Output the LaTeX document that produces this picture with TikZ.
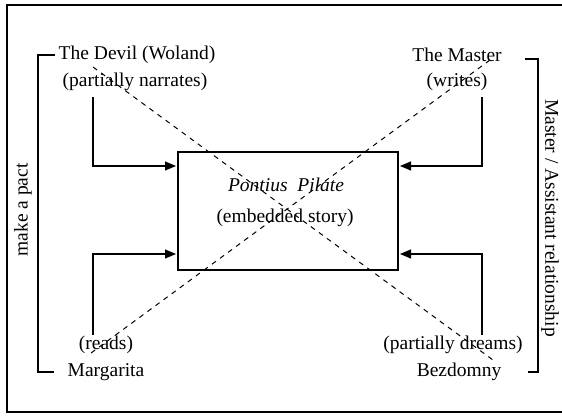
\documentclass[tikz,border=0pt]{standalone}
\usepackage{fontspec}
\setmainfont{Liberation Serif}
\usetikzlibrary{arrows.meta}
\begin{document}
\begin{tikzpicture}[x=1pt,y=-1pt,
  lbl/.style={inner sep=0pt,font=\fontsize{19.5}{22}\selectfont},
  conn/.style={line width=1.2pt},
  arr/.style={line width=1.2pt,-{Triangle[length=11pt,width=9pt]},shorten >=2pt},
  dsh/.style={line width=1pt,dash pattern=on 5pt off 5pt}]
\useasboundingbox (0,0) rectangle (562,415);
% outer frame (right side cut off)
\draw[conn] (566,5) -- (7,5) -- (7,412) -- (566,412);
% central box
\node[draw,line width=1.2pt,minimum width=220pt,minimum height=118pt,inner sep=0pt] (box) at (288,211) {};
\node[lbl] (pp) at (286,185) {\itshape Pontius\ \ Pilate};
\node[lbl] (es) at (285,218) {(embedded story)};
% texts
\node[lbl] (devil) at (137,55) {The Devil (Woland)};
\node[lbl] (narr) at (135,82) {(partially narrates)};
\node[lbl] (master) at (457,55) {The Master};
\node[lbl] (writes) at (457,82) {(writes)};
\node[lbl] (reads) at (106,345) {(reads)};
\node[lbl] (marg) at (106,372) {Margarita};
\node[lbl] (dreams) at (453,345) {(partially dreams)};
\node[lbl] (bez) at (459,372) {Bezdomny};
\node[lbl,rotate=90] (pact) at (23,210) {make a pact};
\node[lbl,rotate=-90] (rel) at (550,218) {Master / Assistant relationship};
% arrow start points
\coordinate (s1) at (93,97);
\coordinate (s2) at (93,335);
\coordinate (s3) at (482,97);
\coordinate (s4) at (482,335);
\coordinate (e1) at (178,166);
\coordinate (e2) at (178,254);
\coordinate (e3) at (398,166);
\coordinate (e4) at (398,254);
\draw[arr] (s1) |- (e1);
\draw[arr] (s2) |- (e2);
\draw[arr] (s3) |- (e3);
\draw[arr] (s4) |- (e4);
% brackets
\coordinate (l1) at (55,55);
\coordinate (l2) at (54,372);
\coordinate (r1) at (525,59);
\coordinate (r2) at (528,372);
\draw[conn] (l1) -- (38,55) -- (38,372) -- (l2);
\draw[conn] (r1) -- (538,59) -- (538,372) -- (r2);
% dashed crossing lines
\coordinate (d1) at (93,67);
\coordinate (d2) at (493,360);
\coordinate (m1) at (490,60);
\coordinate (m2) at (87,356);
\draw[dsh] (d1) -- (d2);
\draw[dsh] (m1) -- (m2);
\end{tikzpicture}
\end{document}
